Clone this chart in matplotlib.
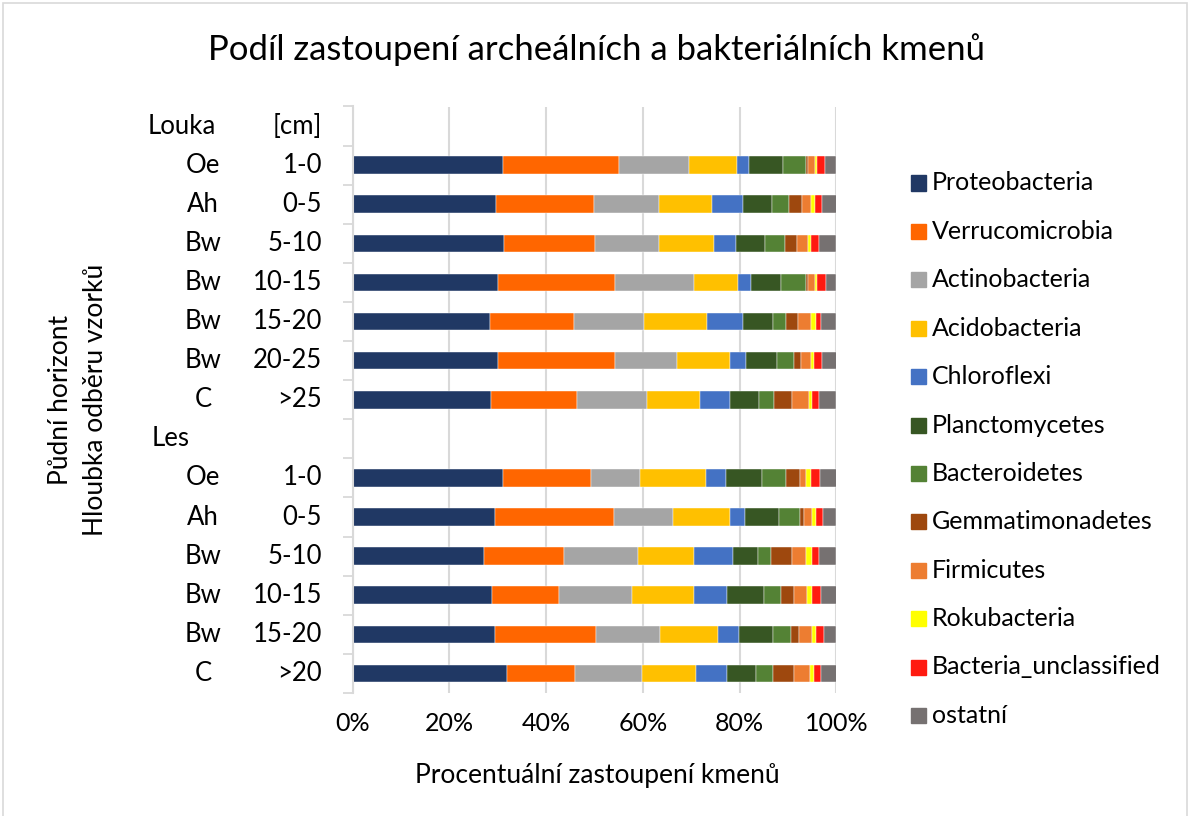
import matplotlib.pyplot as plt
from matplotlib.patches import Rectangle
from matplotlib.transforms import blended_transform_factory

plt.rcParams['font.family'] = ['Lato', 'DejaVu Sans']

# sample order: Louka (7 samples), Les (6 samples)
horizons = ['Oe', 'Ah', 'Bw', 'Bw', 'Bw', 'Bw', 'C',
            'Oe', 'Ah', 'Bw', 'Bw', 'Bw', 'C']
depths = ['1-0', '0-5', '5-10', '10-15', '15-20', '20-25', '>25',
          '1-0', '0-5', '5-10', '10-15', '15-20', '>20']
n_louka = 7

phyla = ['Proteobacteria', 'Verrucomicrobia', 'Actinobacteria', 'Acidobacteria',
         'Chloroflexi', 'Planctomycetes', 'Bacteroidetes', 'Gemmatimonadetes',
         'Firmicutes', 'Rokubacteria', 'Bacteria_unclassified', 'ostatní']

proteobacteria = [31.0, 29.6, 31.2, 30.1, 28.5, 30.0, 28.7, 31.0, 29.5, 27.2, 28.8, 29.5, 31.9]
verrucomicrobia = [24.1, 20.3, 19.0, 24.1, 17.3, 24.3, 17.7, 18.3, 24.5, 16.5, 13.9, 20.8, 14.1]
actinobacteria = [14.4, 13.4, 13.2, 16.4, 14.4, 12.7, 14.5, 10.2, 12.2, 15.3, 15.0, 13.2, 13.8]
acidobacteria = [9.9, 11.0, 11.2, 9.1, 13.0, 10.9, 10.9, 13.5, 11.7, 11.6, 12.8, 12.0, 11.2]
chloroflexi = [2.6, 6.3, 4.6, 2.6, 7.5, 3.4, 6.1, 4.2, 3.1, 8.1, 6.9, 4.4, 6.4]
planctomycetes = [7.0, 6.1, 6.0, 6.3, 6.2, 6.5, 6.1, 7.5, 7.1, 5.1, 7.7, 7.0, 6.0]
bacteroidetes = [4.6, 3.4, 4.2, 5.0, 2.6, 3.5, 3.1, 4.9, 4.4, 2.6, 3.4, 3.6, 3.4]
gemmatimonadetes = [0.6, 2.8, 2.5, 0.6, 2.6, 1.4, 3.7, 2.9, 0.8, 4.4, 2.8, 1.8, 4.5]
firmicutes = [1.3, 1.8, 2.3, 1.4, 2.7, 2.0, 3.5, 1.3, 1.7, 3.0, 2.7, 2.6, 3.2]
rokubacteria = [0.4, 0.8, 0.6, 0.4, 0.9, 0.7, 0.6, 1.0, 0.7, 1.1, 1.0, 0.8, 0.9]
unclassified = [1.8, 1.6, 1.6, 1.9, 1.0, 1.7, 1.5, 1.7, 1.6, 1.5, 1.7, 1.7, 1.5]
ostatni = [2.3, 2.9, 3.6, 2.1, 3.3, 2.9, 3.6, 3.5, 2.7, 3.6, 3.3, 2.6, 3.1]

series = [proteobacteria, verrucomicrobia, actinobacteria, acidobacteria,
          chloroflexi, planctomycetes, bacteroidetes, gemmatimonadetes,
          firmicutes, rokubacteria, unclassified, ostatni]

colors = ['#203864', '#FF6600', '#A5A5A5', '#FFC000', '#4472C4', '#375623',
          '#548235', '#9E480E', '#ED7D31', '#FFFF00', '#FF1A10', '#767171']

W, H = 1190, 816
fig = plt.figure(figsize=(W / 100, H / 100), dpi=100)
ax = fig.add_axes([352.5 / W, 1 - 693 / H, 484 / W, (693 - 106.5) / H])

# rows: 0 = Louka header, 1..7 Louka, 8 = Les header, 9..14 Les
rows = list(range(1, n_louka + 1)) + list(range(n_louka + 2, n_louka + 2 + len(depths) - n_louka))
totals = [sum(s[i] for s in series) for i in range(len(depths))]

left = [0.0] * len(depths)
for vals, col in zip(series, colors):
    pct = [v / t * 100 for v, t in zip(vals, totals)]
    ax.barh(rows, pct, left=left, height=0.45, color=col, edgecolor='white', linewidth=0.3)
    left = [l + p for l, p in zip(left, pct)]

nrows = len(depths) + 2
ax.set_ylim(nrows - 0.5, -0.5)
ax.set_xlim(0, 100)
ax.set_xticks(range(0, 101, 20))
ax.set_xticklabels([f'{v}%' for v in range(0, 101, 20)], fontsize=18)
ax.tick_params(axis='x', length=0, pad=14)
ax.xaxis.grid(True, color='#D9D9D9', linewidth=1.5)
ax.set_axisbelow(True)
ax.set_yticks([])
ax.set_yticks([r - 0.5 for r in range(nrows + 1)], minor=True)
ax.tick_params(axis='y', which='minor', length=7, width=1.3, color='#D9D9D9')
for s in ['top', 'right', 'bottom']:
    ax.spines[s].set_visible(False)
ax.spines['left'].set_color('#D9D9D9')
ax.spines['left'].set_linewidth(1.5)

# multi-level category labels
tr = blended_transform_factory(fig.transFigure, ax.transData)
fs = 18.5
ax.text(148 / W, 0, 'Louka', transform=tr, ha='left', va='center', fontsize=fs)
ax.text(322 / W, 0, '[cm]', transform=tr, ha='right', va='center', fontsize=fs)
ax.text(152 / W, n_louka + 1, 'Les', transform=tr, ha='left', va='center', fontsize=fs)
for r, hz, d in zip(rows, horizons, depths):
    ax.text(203 / W, r, hz, transform=tr, ha='center', va='center', fontsize=fs)
    ax.text(322 / W, r, d, transform=tr, ha='right', va='center', fontsize=fs)

fig.text(60 / W, 1 - 400 / H, 'Půdní horizont', rotation=90, ha='center', va='center', fontsize=19)
fig.text(96 / W, 1 - 400 / H, 'Hloubka odběru vzorků', rotation=90, ha='center', va='center', fontsize=19)
fig.text(597 / W, 1 - 775 / H, 'Procentuální zastoupení kmenů', ha='center', va='center', fontsize=19)
fig.text(597 / W, 1 - 50 / H, 'Podíl zastoupení archeálních a bakteriálních kmenů',
         ha='center', va='center', fontsize=25)

# legend
for i, (name, col) in enumerate(zip(phyla, colors)):
    y = 183 + i * 48.4
    fig.add_artist(Rectangle((911 / W, 1 - (y + 7.5) / H), 15 / W, 15 / H,
                             transform=fig.transFigure, color=col))
    fig.text(932 / W, 1 - y / H, name, ha='left', va='center', fontsize=18)

# chart border
fig.add_artist(Rectangle((3 / W, -0.01), 1184 / W, 1 - 3 / H + 0.01, transform=fig.transFigure,
                         fill=False, edgecolor='#D9D9D9', linewidth=1.2))

fig.savefig('out.png', dpi=100)
